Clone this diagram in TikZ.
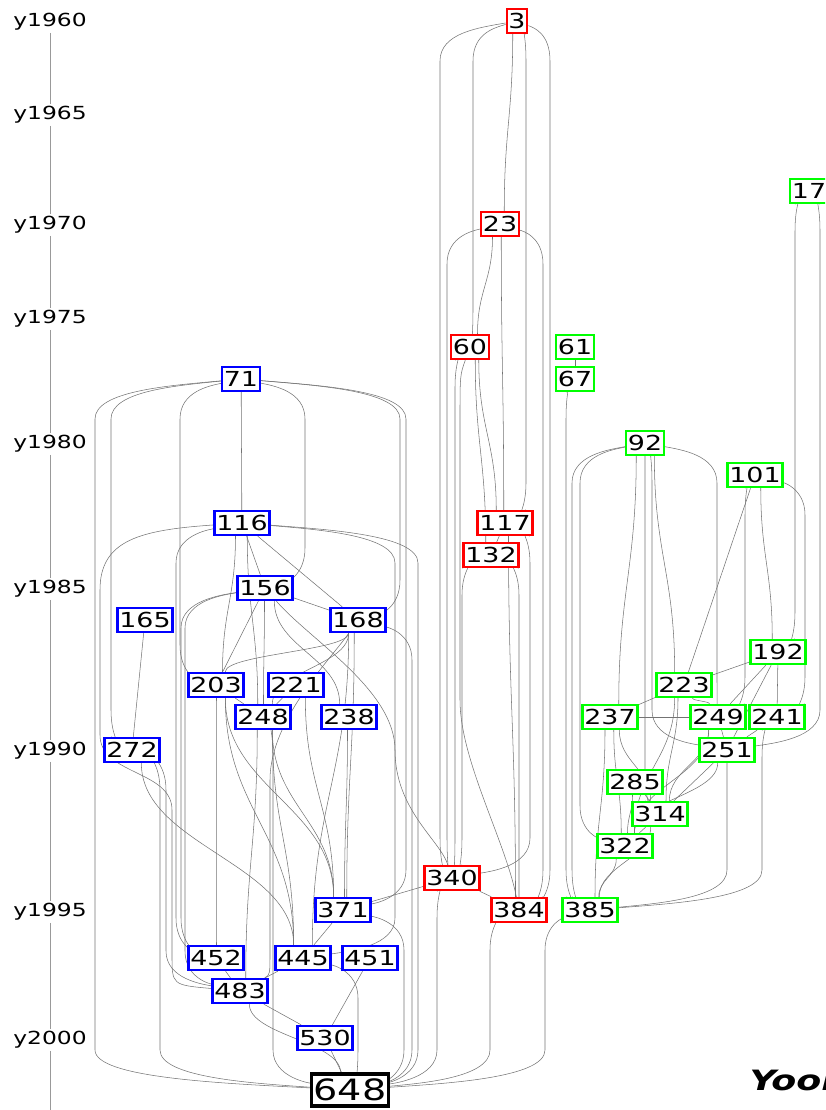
\documentclass[tikz,border=0pt]{standalone}
\usepackage{fontspec}
\setmainfont{DejaVu Sans}[FakeStretch=1.3]
\usetikzlibrary{calc,backgrounds}
\tikzset{
  box/.style={draw, line width=1.8pt, fill=white, inner xsep=1.3pt, inner ysep=0pt, minimum height=18pt, font=\fontsize{15.5}{16}\selectfont},
  rd/.style={box, draw=red},
  bl/.style={box, draw=blue},
  gr/.style={box, draw=green},
  bk/.style={box, draw=black, line width=2.3pt, minimum height=24pt, font=\fontsize{22}{24}\selectfont},
  yr/.style={inner sep=1.5pt, font=\fontsize{13.5}{14}\selectfont},
  ed/.style={draw=black!55, line width=0.4pt},
  ax/.style={draw=black!40, line width=0.5pt}
}
\begin{document}
\begin{tikzpicture}[x=0.75pt,y=0.75pt]
\useasboundingbox (0,0) rectangle (825,-1110);
\clip (0,0) rectangle (825,-1110);
\foreach \yr/\h in {1960/22,1965/115,1970/225,1975/319,1980/444,1985/589,1990/751,1995/912,2000/1040}
  \node[yr] (y\yr) at (50,-\h) {y\yr};
\coordinate (yend) at (50,-1112);
\node[rd] (n3) at (517,-21) {3};
\node[rd] (n23) at (500,-224) {23};
\node[rd] (n60) at (470,-347) {60};
\node[rd] (n117) at (505,-523) {117};
\node[rd] (n132) at (491,-555) {132};
\node[rd] (n340) at (452,-878) {340};
\node[rd] (n384) at (519,-910) {384};
\node[gr] (n17) at (809,-191) {17};
\node[gr] (n61) at (575,-347) {61};
\node[gr] (n67) at (575,-379) {67};
\node[gr] (n92) at (645,-443) {92};
\node[gr] (n101) at (755,-475) {101};
\node[gr] (n192) at (778,-652) {192};
\node[gr] (n223) at (684,-685) {223};
\node[gr] (n237) at (610,-717) {237};
\node[gr] (n249) at (718,-717) {249};
\node[gr] (n241) at (777,-717) {241};
\node[gr] (n251) at (727,-750) {251};
\node[gr] (n285) at (635,-782) {285};
\node[gr] (n314) at (660,-814) {314};
\node[gr] (n322) at (625,-846) {322};
\node[gr] (n385) at (590,-910) {385};
\node[bl] (n71) at (241,-379) {71};
\node[bl] (n116) at (242,-523) {116};
\node[bl] (n156) at (265,-588) {156};
\node[bl] (n165) at (145,-620) {165};
\node[bl] (n168) at (358,-620) {168};
\node[bl] (n203) at (216,-685) {203};
\node[bl] (n221) at (296,-685) {221};
\node[bl] (n248) at (263,-717) {248};
\node[bl] (n238) at (349,-717) {238};
\node[bl] (n272) at (132,-750) {272};
\node[bl] (n371) at (343,-910) {371};
\node[bl] (n452) at (216,-958) {452};
\node[bl] (n445) at (303,-958) {445};
\node[bl] (n451) at (370,-958) {451};
\node[bl] (n483) at (240,-991) {483};
\node[bl] (n530) at (325,-1038) {530};
\node[bk] (n648) at (350,-1090) {648};
\node[anchor=base west, font=\fontsize{21}{22}\selectfont\bfseries\itshape] (yoon) at (745,-1090) {Yoon};
\begin{scope}[on background layer]
\foreach \p/\q in {1960/1965,1965/1970,1970/1975,1975/1980,1980/1985,1985/1990,1990/1995,1995/2000}
  \draw[ax] (y\p) -- (y\q);
\draw[ax] (y2000) -- (yend);
\foreach \a/\b in {117/132,340/371,340/384,61/67,156/168,192/223,237/249,223/237,285/314,314/322,452/483,445/483,483/530,451/530,530/648,165/272,116/168,116/156,156/203,203/248,221/248,249/251,241/251,192/249,192/241,192/251,251/314,371/445,101/223}
  \draw[ed] (n\a) -- (n\b);
\foreach \a/\b in {3/23,23/60,23/117,60/117,60/132,117/384,92/237,92/223,101/192,237/322,237/314,237/385,223/249,223/314,223/322,249/314,249/322,251/322,314/385,322/385,285/322,71/116,116/203,116/248,156/248,156/238,168/248,168/203,168/371,168/445,238/371,248/371,248/445,248/483,203/452,203/445,203/371,221/371,272/445,483/648}
  \draw[ed] let \p1=(n\a.south), \p2=(n\b.north), \n1={max(-7,min(7,0.25*(\x2-\x1)))}, \n2={0.45*(\y1-\y2)} in
    ({\x1+\n1*1pt},\y1) .. controls ({\x1+\n1*1pt},{\y1-\n2*1pt}) and ({\x2-\n1*1pt},{\y2+\n2*1pt}) .. ({\x2-\n1*1pt},\y2);
\foreach \a/\b/\X in {3/60/473,3/340/440,3/117/526,3/384/550,23/340/447,23/384/543,60/340/455,117/340/530,132/340/462,132/384/519,340/648/437,384/648/490,385/648/545,67/385/566,92/385/572,92/322/580,92/314/645,92/251/652,92/249/717,101/249/745,101/241/805,17/192/795,17/251/820,251/385/727,241/385/762,71/648/95,71/272/111,71/203/180,71/156/305,71/168/400,71/371/406,116/452/176,116/445/395,116/648/418,156/452/181,156/483/185,168/648/412,272/648/160,272/483/166,371/648/404,445/648/358,248/648/273}
  \draw[ed] let \p1=(n\a), \p2=(n\b), \n3={\X*0.75} in
    (n\a) .. controls ({0.5*\x1+0.5*\n3*1pt},{\y1-5pt}) and ({\n3*1pt},{\y1-9pt}) .. ({\n3*1pt},{\y1-30pt})
    -- ({\n3*1pt},{\y2+30pt}) .. controls ({\n3*1pt},{\y2+9pt}) and ({0.5*\x2+0.5*\n3*1pt},{\y2+5pt}) .. (n\b);
\draw[ed] (n116) .. controls (140,-530) and (100,-540) .. (100,-590) -- (100,-735) .. controls (100,-775) and (172,-770) .. (172,-810) -- (172,-955) .. controls (172,-985) .. (n483);
\draw[ed] (n168) .. controls (330,-660) and (270,-720) .. (270,-780) -- (270,-950) .. controls (270,-975) .. (n483);
\draw[ed] (n156) .. controls (310,-640) and (395,-690) .. (395,-750) .. controls (395,-810) and (440,-840) .. (n340);
\draw[ed] (n60) .. controls (460,-375) .. (460,-420) -- (460,-700) .. controls (460,-760) and (505,-840) .. (n384);
\end{scope}
\end{tikzpicture}
\end{document}
